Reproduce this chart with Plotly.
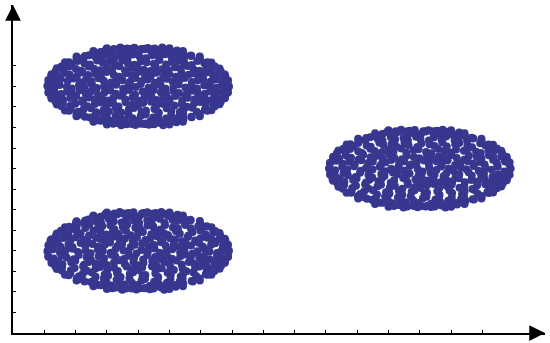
import plotly.graph_objects as go

# tick positions (axes carry no labels in the reference)
x_ticks = [100, 200, 300, 400, 500, 600, 700, 800, 900, 1000, 1100, 1200, 1300, 1400, 1500]
y_ticks = [100, 200, 300, 400, 500, 600, 700, 800, 900, 1000, 1100, 1200, 1300]

# upper left cluster, estimated by eye
a_x = [110,131,149,172,188,211,229,252,268,291,309,330,352,369,392,408,433,449,472,488,513,529,551,570,588,611,629,650,668,690,
       113,134,152,175,193,214,233,251,274,290,313,331,350,374,391,412,430,453,470,491,510,533,549,572,591,608,631,648,669,687,
       123,141,163,181,204,222,240,263,281,299,322,339,361,380,398,421,440,458,481,499,520,538,561,579,600,618,639,658,677,
       140,161,179,201,218,241,259,278,300,317,340,358,379,397,418,439,456,479,497,518,536,558,577,596,618,637,660,
       166,187,206,228,246,269,287,308,326,349,367,388,409,427,450,468,489,508,530,548,571,589,611,634,
       203,224,243,264,284,303,325,344,366,384,405,426,445,466,486,507,527,546,568,597,
       257,278,297,318,338,360,379,401,420,441,462,482,503,524,543,
       300,322,343,365,388,410,431,453,477,500,
       113,132,154,173,191,213,232,250,272,293,311,329,353,371,390,414,431,450,473,489,512,530,552,571,590,613,630,649,671,687,
       123,144,160,183,202,224,243,261,283,301,320,342,359,382,401,419,442,459,480,501,519,541,559,582,601,620,641,657,677,
       140,159,182,199,221,238,261,280,298,320,337,360,381,399,416,441,458,477,500,516,539,556,579,598,616,640,660,
       166,185,208,225,249,266,290,306,329,346,370,386,411,425,452,466,491,506,533,546,573,587,613,634,
       203,222,246,262,287,301,328,342,369,382,408,424,448,464,489,505,530,544,571,597,
       257,276,300,316,341,358,382,399,423,439,465,480,506,522,543,
       300,320,346,363,391,408,434,451,480,500]
a_y = [1203,1194,1207,1198,1190,1206,1199,1210,1192,1201,1195,1208,1189,1203,1197,1211,1193,1200,1206,1188,1199,1209,1194,1203,1190,1205,1198,1193,1207,1200,
       1231,1222,1236,1227,1238,1220,1233,1225,1240,1228,1219,1235,1230,1222,1241,1226,1234,1218,1229,1237,1224,1232,1241,1221,1230,1236,1223,1234,1226,1230,
       1259,1252,1265,1256,1248,1268,1255,1262,1250,1270,1257,1247,1264,1253,1269,1258,1249,1266,1254,1261,1247,1268,1256,1263,1251,1267,1255,1260,1258,
       1288,1280,1295,1284,1276,1297,1286,1279,1292,1283,1298,1277,1289,1294,1281,1275,1296,1285,1278,1293,1287,1299,1282,1276,1291,1284,1287,
       1317,1309,1324,1312,1306,1326,1315,1321,1308,1327,1313,1305,1322,1318,1310,1328,1307,1319,1325,1311,1304,1323,1314,1316,
       1345,1338,1352,1343,1336,1354,1341,1349,1335,1355,1344,1337,1351,1342,1356,1339,1348,1334,1350,1345,
       1372,1366,1378,1369,1380,1364,1374,1367,1381,1371,1365,1379,1368,1375,1372,
       1386,1382,1389,1384,1388,1382,1387,1384,1389,1386,
       1169,1178,1163,1174,1160,1181,1167,1176,1158,1171,1180,1164,1172,1182,1159,1175,1166,1183,1170,1161,1177,1168,1159,1179,1170,1164,1176,1166,1174,1170,
       1141,1149,1135,1144,1152,1132,1146,1138,1151,1131,1143,1154,1136,1147,1130,1142,1152,1134,1146,1139,1153,1133,1145,1137,1150,1132,1144,1140,1142,
       1112,1120,1105,1116,1124,1103,1114,1121,1108,1117,1102,1123,1111,1106,1119,1125,1104,1115,1122,1107,1113,1101,1118,1124,1109,1116,1113,
       1083,1091,1076,1088,1094,1074,1085,1079,1092,1073,1087,1095,1078,1082,1090,1072,1093,1081,1075,1089,1096,1077,1086,1084,
       1055,1062,1048,1057,1064,1046,1059,1051,1065,1045,1056,1063,1049,1058,1044,1061,1052,1066,1050,1055,
       1028,1034,1022,1031,1020,1036,1026,1033,1019,1029,1035,1021,1032,1025,1028,
       1014,1018,1011,1016,1012,1018,1013,1016,1011,1014]
a_edge_x = [689,686,678,664,645,621,597,570,545,518,494,470,445,420,
            380,355,330,306,282,255,230,203,179,155,136,122,114,111,
            114,122,136,155,179,203,230,255,282,306,330,355,380,
            420,445,470,494,518,545,570,597,621,645,664,678,686]
a_edge_y = [1200,1225,1250,1274,1297,1318,1334,1348,1358,1367,1373,1378,1381,1383,
            1383,1381,1378,1373,1367,1358,1348,1334,1318,1297,1274,1250,1225,1200,
            1175,1150,1126,1103,1082,1066,1052,1042,1033,1027,1022,1019,1017,
            1017,1019,1022,1027,1033,1042,1052,1066,1082,1103,1126,1150,1175]

# lower left cluster
b_x = [110,128,150,169,191,208,232,248,271,287,312,328,353,368,394,410,431,452,469,491,509,534,548,573,589,612,628,652,667,690,
       113,136,151,177,190,216,231,254,272,293,310,334,349,376,389,413,433,451,473,488,514,531,552,569,593,606,633,646,671,687,
       123,143,161,184,201,225,238,265,279,302,320,341,358,383,396,423,438,461,478,502,518,541,558,582,598,621,637,660,677,
       140,163,177,204,216,243,257,281,298,319,338,361,376,400,415,442,454,482,495,521,533,561,574,599,615,640,660,
       166,189,204,231,244,271,285,311,324,351,365,391,406,430,448,471,486,511,527,551,568,592,609,634,
       203,226,241,267,282,306,322,347,363,387,403,429,443,469,484,510,525,549,566,597,
       257,280,295,321,336,362,377,403,418,444,459,485,501,526,543,
       300,324,341,368,385,412,429,456,474,500,
       113,130,155,171,194,210,235,249,274,291,314,327,355,370,387,416,429,454,471,492,508,535,550,568,595,610,628,652,668,687,
       123,146,158,186,199,227,241,263,286,300,323,340,357,385,399,417,445,457,483,499,522,539,562,580,604,618,644,655,677,
       140,157,185,197,224,236,264,278,301,323,335,363,379,402,413,444,456,475,503,514,542,554,582,596,619,638,660,
       166,183,211,223,252,264,293,304,332,344,373,384,414,423,455,464,494,504,536,544,576,585,616,634,
       203,220,249,260,290,299,331,340,372,380,411,422,451,462,492,503,533,542,574,597,
       257,274,303,314,344,356,385,397,426,437,468,478,509,520,543,
       300,318,349,361,394,406,437,449,483,500]
b_y = [398,407,392,403,410,394,401,388,406,399,391,409,402,395,387,404,397,411,390,400,408,393,405,386,398,410,396,389,402,400,
       427,436,421,431,419,438,425,433,420,429,440,423,434,418,430,437,422,428,441,424,432,419,435,426,439,421,430,437,424,430,
       456,448,462,451,466,454,446,463,457,449,468,453,460,447,465,452,458,470,449,461,455,446,467,450,459,464,452,456,458,
       484,493,478,496,484,475,498,487,479,494,482,497,476,489,492,480,499,485,477,495,483,474,491,498,481,488,487,
       515,506,522,511,527,508,519,524,505,516,528,512,507,523,518,504,526,513,509,525,510,520,517,514,
       544,536,552,541,534,555,543,538,553,546,535,549,540,556,537,550,545,533,551,545,
       572,566,578,569,580,564,574,567,581,571,565,579,568,575,572,
       586,582,589,584,588,582,587,584,589,586,
       371,362,378,367,359,380,369,357,374,364,381,372,360,376,366,358,379,370,363,377,361,373,382,365,368,375,359,371,367,370,
       341,349,335,344,352,332,346,338,351,331,343,354,336,347,330,342,352,334,346,339,353,333,345,337,350,332,344,340,342,
       312,320,305,316,324,303,314,321,308,317,302,323,311,306,319,325,304,315,322,307,313,301,318,324,309,316,313,
       283,291,276,288,294,274,285,279,292,273,287,295,278,282,290,272,293,281,275,289,296,277,286,284,
       255,262,248,257,264,246,259,251,265,245,256,263,249,258,244,261,252,266,250,255,
       228,234,222,231,220,236,226,233,219,229,235,221,232,225,228,
       214,218,211,216,212,218,213,216,211,214]
b_edge_x = [688,685,679,662,646,619,598,568,546,516,495,468,446,418,
            382,353,331,304,283,253,231,201,180,153,137,120,115,112,
            113,123,135,156,178,204,229,256,281,307,329,356,379,
            421,444,471,493,519,544,571,596,622,644,665,677,687]
b_edge_y = [398,424,449,475,496,519,533,549,557,568,572,579,580,584,
            582,582,577,574,566,559,547,535,517,498,473,451,424,401,
            374,351,325,304,281,267,251,243,232,228,221,220,216,
            218,218,223,226,234,241,253,265,283,302,327,349,376]

# right cluster
c_x = [1010,1029,1052,1068,1090,1111,1128,1149,1172,1189,1208,1231,1249,1268,1293,1309,1330,1353,1368,1392,1408,1431,1449,1473,1488,1510,1530,1549,1570,1590,
       1013,1033,1053,1074,1092,1113,1135,1150,1176,1191,1209,1234,1250,1272,1290,1314,1329,1354,1371,1389,1413,1430,1452,1470,1493,1507,1534,1546,1572,1587,
       1023,1042,1064,1080,1105,1119,1143,1160,1181,1202,1219,1243,1258,1281,1299,1323,1338,1361,1379,1401,1418,1443,1457,1482,1497,1521,1536,1560,1577,
       1040,1062,1077,1103,1115,1142,1156,1179,1200,1216,1241,1257,1280,1296,1320,1337,1358,1378,1399,1416,1441,1455,1480,1495,1519,1537,1560,
       1066,1088,1103,1130,1143,1171,1184,1210,1225,1251,1264,1292,1305,1331,1347,1372,1386,1413,1426,1452,1467,1493,1509,1534,
       1103,1125,1141,1166,1181,1207,1221,1248,1262,1288,1302,1329,1344,1369,1384,1411,1424,1451,1466,1497,
       1157,1179,1195,1221,1235,1262,1276,1303,1317,1344,1358,1385,1400,1426,1443,
       1200,1223,1240,1267,1284,1311,1328,1355,1373,1400,
       1013,1031,1056,1070,1095,1109,1136,1148,1177,1187,1214,1228,1255,1267,1296,1306,1335,1347,1376,1385,1415,1426,1456,1466,1496,1505,1532,1550,1567,1587,
       1023,1045,1059,1087,1098,1128,1139,1168,1178,1207,1218,1247,1260,1286,1301,1326,1343,1365,1384,1404,1425,1444,1465,1485,1506,1525,1545,1559,1577,
       1040,1058,1084,1096,1125,1135,1165,1176,1204,1220,1244,1262,1285,1303,1323,1345,1362,1386,1402,1427,1442,1468,1483,1509,1521,1544,1560,
       1066,1082,1110,1122,1151,1163,1192,1203,1233,1244,1274,1283,1315,1323,1356,1363,1395,1403,1435,1443,1475,1485,1516,1534,
       1103,1119,1148,1159,1189,1198,1230,1239,1271,1279,1310,1321,1350,1361,1391,1402,1432,1441,1473,1497,
       1157,1173,1202,1213,1243,1255,1284,1296,1325,1336,1367,1377,1408,1419,1443,
       1200,1217,1248,1260,1293,1305,1336,1348,1382,1400]
c_y = [801,792,808,796,811,789,803,795,809,787,799,806,791,812,798,786,805,793,810,800,788,807,797,813,790,802,794,809,786,800,
       829,838,823,833,821,840,827,835,819,831,842,824,836,820,828,839,822,834,826,841,818,830,837,825,832,820,843,827,835,830,
       857,849,864,853,846,867,855,861,848,869,852,845,863,856,850,868,847,860,854,866,851,844,862,858,849,865,853,859,858,
       888,880,895,884,876,897,886,879,892,883,898,877,889,894,881,875,896,885,878,893,887,899,882,876,891,884,887,
       917,909,924,912,906,926,915,921,908,927,913,905,922,918,910,928,907,919,925,911,904,923,914,916,
       945,938,952,943,936,954,941,949,935,955,944,937,951,942,956,939,948,934,950,945,
       972,966,978,969,980,964,974,967,981,971,965,979,968,975,972,
       986,982,989,984,988,982,987,984,989,986,
       771,762,778,767,759,780,769,757,774,764,781,772,760,776,766,758,779,770,763,777,761,773,782,765,768,775,759,771,767,770,
       741,749,735,744,752,732,746,738,751,731,743,754,736,747,730,742,752,734,746,739,753,733,745,737,750,732,744,740,742,
       712,720,705,716,724,703,714,721,708,717,702,723,711,706,719,725,704,715,722,707,713,701,718,724,709,716,713,
       683,691,676,688,694,674,685,679,692,673,687,695,678,682,690,672,693,681,675,689,696,677,686,684,
       655,662,648,657,664,646,659,651,665,645,656,663,649,658,644,661,652,666,650,655,
       628,634,622,631,620,636,626,633,619,629,635,621,632,625,628,
       614,618,611,616,612,618,613,616,611,614]
c_edge_x = [1589,1585,1578,1563,1546,1520,1497,1471,1444,1419,1393,1371,1344,1321,
            1279,1256,1229,1207,1181,1156,1129,1104,1078,1056,1035,1023,1013,1011,
            1015,1021,1037,1054,1080,1102,1131,1154,1183,1205,1231,1254,1281,
            1319,1346,1369,1395,1417,1446,1469,1498,1520,1546,1564,1579,1585]
c_edge_y = [801,824,851,873,898,917,935,947,959,966,974,977,982,982,
            984,980,979,972,968,957,949,933,919,896,875,849,826,799,
            776,749,727,702,683,665,653,641,634,626,623,618,618,
            616,620,621,628,632,643,651,667,681,704,725,751,774]

fig = go.Figure()
for xs, ys in [(a_x + a_edge_x, a_y + a_edge_y), (b_x + b_edge_x, b_y + b_edge_y), (c_x + c_edge_x, c_y + c_edge_y)]:
    fig.add_trace(go.Scatter(x=xs, y=ys, mode='markers',
                             marker=dict(color='#37378f', size=8, line=dict(width=0))))

# arrow heads on the ends of both axes
fig.add_annotation(x=1700, y=0, ax=1660, ay=0, xref='x', yref='y', axref='x', ayref='y',
                   text='', showarrow=True, arrowhead=2, arrowsize=2.1, arrowwidth=1.5, arrowcolor='black')
fig.add_annotation(x=0, y=1596, ax=0, ay=1520, xref='x', yref='y', axref='x', ayref='y',
                   text='', showarrow=True, arrowhead=2, arrowsize=2.1, arrowwidth=1.5, arrowcolor='black')

fig.update_layout(width=550, height=343, showlegend=False, plot_bgcolor='white', paper_bgcolor='white',
                  margin=dict(l=13, r=5, t=5, b=10),
                  xaxis=dict(range=[0, 1700], tickvals=x_ticks, ticks='inside', ticklen=3, tickwidth=1,
                             tickcolor='black', showticklabels=False, showgrid=False, zeroline=False,
                             showline=True, linecolor='black', linewidth=1.5),
                  yaxis=dict(range=[0, 1596], tickvals=y_ticks, ticks='inside', ticklen=3, tickwidth=1,
                             tickcolor='black', showticklabels=False, showgrid=False, zeroline=False,
                             showline=True, linecolor='black', linewidth=1.5))

# the page's default body margin would push the plot off the window
fig.write_html("out.html", config={'displayModeBar': False}, post_script="document.body.style.margin='0'")
